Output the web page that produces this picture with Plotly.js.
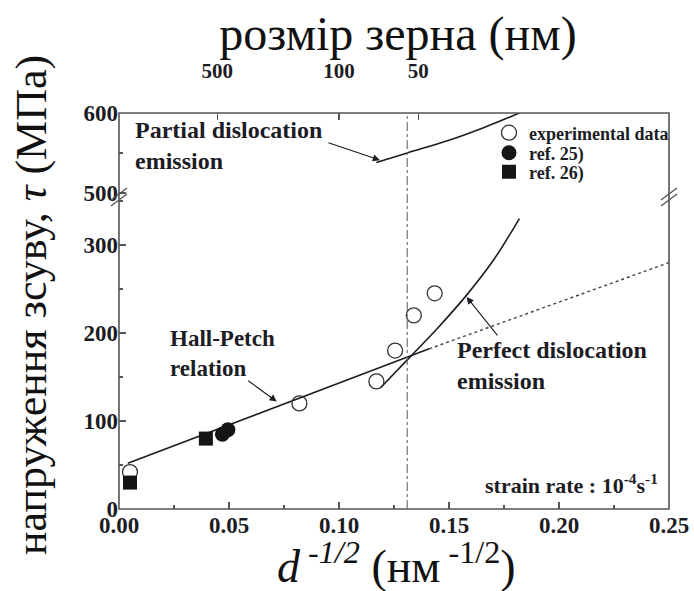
<!DOCTYPE html>
<html>
<head>
<meta charset="utf-8">
<script src="https://cdn.plot.ly/plotly-3.0.1.min.js"></script>
<style>
  html, body { margin: 0; padding: 0; background: #fff; }
  #chart { width: 694px; height: 591px; }
</style>
</head>
<body>
<div id="chart"></div>
<script>
// Measured shear stress vs inverse square root of grain size
const expX = [0.005, 0.082, 0.117, 0.1255, 0.134, 0.1435];
const expY = [42, 120, 145, 180, 220, 245];
const ref25X = [0.047, 0.0495];
const ref25Y = [85, 90];
const ref26X = [0.005, 0.0395];
const ref26Y = [30, 80];

// Hall-Petch relation (solid part and its dotted extrapolation)
const hallPetchX = [0.004, 0.141];
const hallPetchY = [52, 182];
const hallPetchExtX = [0.141, 0.25];
const hallPetchExtY = [182, 280];

// Perfect dislocation emission curve
const perfectX = [0.119, 0.132, 0.145, 0.158, 0.170, 0.182];
const perfectY = [138, 172, 206, 243, 282, 330];

// Partial dislocation emission curve (upper panel)
const partialX = [0.117, 0.131, 0.150, 0.166, 0.182];
const partialY = [538, 550, 566, 582, 600];

// Critical grain size marker line
const criticalX = 0.131;

// Top axis: grain size in nm
const grainTickPos = [0.0447, 0.100, 0.136];
const grainTickText = ['500', '100', '50'];

const SERIF = "'Liberation Serif', 'DejaVu Serif', serif";
const INK = '#1c1c24';
const FRAME = '#555';

const lineStyle = { color: INK, width: 1.6 };

const traces = [
  { x: hallPetchX, y: hallPetchY, xaxis: 'x', yaxis: 'y', mode: 'lines',
    line: lineStyle, showlegend: false, hoverinfo: 'skip' },
  { x: hallPetchExtX, y: hallPetchExtY, xaxis: 'x', yaxis: 'y', mode: 'lines',
    line: { color: '#444', width: 1.4, dash: 'dot' }, showlegend: false, hoverinfo: 'skip' },
  { x: perfectX, y: perfectY, xaxis: 'x', yaxis: 'y', mode: 'lines',
    line: Object.assign({ shape: 'spline', smoothing: 1 }, lineStyle), showlegend: false, hoverinfo: 'skip' },
  { x: partialX, y: partialY, xaxis: 'x', yaxis: 'y2', mode: 'lines',
    line: Object.assign({ shape: 'spline', smoothing: 1 }, lineStyle), showlegend: false, hoverinfo: 'skip' },
  { x: expX, y: expY, xaxis: 'x', yaxis: 'y', mode: 'markers', name: 'experimental data',
    legend: 'legend',
    marker: { symbol: 'circle-open', size: 15, color: '#333', line: { width: 1.3, color: '#333' } } },
  { x: ref25X, y: ref25Y, xaxis: 'x', yaxis: 'y', mode: 'markers', name: 'ref. 25)',
    legend: 'legend2',
    marker: { symbol: 'circle', size: 15, color: '#151515' } },
  { x: ref26X, y: ref26Y, xaxis: 'x', yaxis: 'y', mode: 'markers', name: 'ref. 26)',
    legend: 'legend3',
    marker: { symbol: 'square', size: 14, color: '#151515' } },
  // invisible trace that carries the top (grain size) axis
  { x: grainTickPos, y: [550, 550, 550], xaxis: 'x2', yaxis: 'y2', mode: 'markers',
    marker: { opacity: 0 }, showlegend: false, hoverinfo: 'skip' }
];

const tickFont = { family: SERIF, size: 23, color: INK, weight: 'bold' };
const LOWER_TOP = 0.7879;

const breakMark = (xp, dy) => ({
  type: 'line', xref: 'paper', yref: 'paper',
  xsizemode: 'pixel', ysizemode: 'pixel', xanchor: xp, yanchor: LOWER_TOP,
  x0: -8, x1: 8, y0: -6 + dy, y1: 6 + dy,
  line: { color: FRAME, width: 1.4 }
});

// one legend box per entry so the rows sit tightly together
const legendBox = (yPaper) => ({
  x: 0.6727, xanchor: 'left', y: yPaper, yanchor: 'middle',
  bgcolor: 'rgba(0,0,0,0)', borderwidth: 0,
  font: { family: SERIF, size: 18, color: INK, weight: 'bold' },
  tracegroupgap: 0, itemwidth: 30
});

const layout = {
  width: 694, height: 591,
  margin: { l: 119, r: 25, t: 113, b: 82 },
  paper_bgcolor: '#fff', plot_bgcolor: '#fff',
  font: { family: SERIF, color: INK },
  title: {
    text: 'розмір зерна (нм)',
    font: { family: SERIF, size: 48, color: '#111' },
    xref: 'container', yref: 'container',
    x: 398 / 694, xanchor: 'center', y: 1 - 33 / 591, yanchor: 'middle'
  },
  xaxis: {
    range: [0, 0.25], dtick: 0.05, tick0: 0, tickformat: '.2f',
    ticks: 'inside', ticklen: 7, tickwidth: 1.2, tickcolor: FRAME,
    minor: { dtick: 0.025, ticks: 'inside', ticklen: 4, tickcolor: FRAME },
    showgrid: false, zeroline: false, showline: false,
    tickfont: tickFont, anchor: 'y'
  },
  xaxis2: {
    overlaying: 'x', matches: 'x', anchor: 'y2', side: 'top',
    tickmode: 'array', tickvals: grainTickPos, ticktext: grainTickText,
    ticks: 'inside', ticklen: 7, tickwidth: 1.2, tickcolor: FRAME,
    ticklabelstandoff: 30,
    tickfont: { family: SERIF, size: 21, color: INK, weight: 'bold' },
    showgrid: false, zeroline: false, showline: false
  },
  yaxis: {
    domain: [0, LOWER_TOP], range: [0, 354.5], dtick: 100, tick0: 0,
    ticks: 'inside', ticklen: 7, tickwidth: 1.2, tickcolor: FRAME,
    minor: { dtick: 50, ticks: 'inside', ticklen: 4, tickcolor: FRAME },
    showgrid: false, zeroline: false, showline: false,
    tickfont: tickFont, anchor: 'x'
  },
  yaxis2: {
    domain: [LOWER_TOP, 1], range: [495, 600], dtick: 100, tick0: 0,
    ticks: 'inside', ticklen: 7, tickwidth: 1.2, tickcolor: FRAME,
    minor: { dtick: 50, ticks: 'inside', ticklen: 4, tickcolor: FRAME },
    showgrid: false, zeroline: false, showline: false,
    tickfont: tickFont, anchor: 'x'
  },
  showlegend: true,
  legend: legendBox((509 - 133) / 396),
  legend2: legendBox((509 - 153) / 396),
  legend3: legendBox((509 - 172) / 396),
  shapes: [
    { type: 'rect', xref: 'paper', yref: 'paper', x0: 0, x1: 1, y0: 0, y1: 1,
      line: { color: FRAME, width: 1.6 } },
    { type: 'line', xref: 'x', yref: 'paper', x0: criticalX, x1: criticalX, y0: 0, y1: 1,
      line: { color: '#666', width: 1.1, dash: 'dashdot' } },
    breakMark(0, -3), breakMark(0, 3),
    breakMark(1, -3), breakMark(1, 3)
  ],
  annotations: [
    // axis titles
    { xref: 'paper', yref: 'paper', x: -0.16, y: 0.515, xanchor: 'center', yanchor: 'middle',
      text: 'напруження зсуву, <i>τ</i> (МПа)', textangle: -90, showarrow: false,
      font: { family: SERIF, size: 44, color: '#111' } },
    { xref: 'paper', yref: 'paper', x: 0.505, y: -0.137, xanchor: 'center', yanchor: 'middle',
      text: '<i>d</i><sup><i> -1/2</i></sup> (нм<sup> -1/2</sup>)', showarrow: false,
      font: { family: SERIF, size: 46, color: '#111' } },
    // labels and pointers
    { xref: 'paper', yref: 'y2', x: 0.0255, y: 559, xanchor: 'left', yanchor: 'middle', align: 'left',
      text: 'Partial dislocation<br>emission', showarrow: false,
      font: { family: SERIF, size: 24, color: INK, weight: 'bold' } },
    { xref: 'x', yref: 'y2', x: 0.1186, y: 541, ax: -53, ay: -18, text: '',
      showarrow: true, arrowhead: 2, arrowsize: 1.3, arrowwidth: 1.1, arrowcolor: INK },
    { xref: 'x', yref: 'y', x: 0.0223, y: 177, xanchor: 'left', yanchor: 'middle', align: 'left',
      text: 'Hall-Petch<br>relation', showarrow: false,
      font: { family: SERIF, size: 23, color: INK, weight: 'bold' } },
    { xref: 'x', yref: 'y', x: 0.0717, y: 122, ax: -30, ay: -22, text: '',
      showarrow: true, arrowhead: 2, arrowsize: 1.3, arrowwidth: 1.1, arrowcolor: INK },
    { xref: 'x', yref: 'y', x: 0.1527, y: 162.5, xanchor: 'left', yanchor: 'middle', align: 'left',
      text: 'Perfect dislocation<br>emission', showarrow: false,
      font: { family: SERIF, size: 24, color: INK, weight: 'bold' } },
    { xref: 'x', yref: 'y', x: 0.158, y: 241, ax: 32, ay: 40, text: '',
      showarrow: true, arrowhead: 2, arrowsize: 1.3, arrowwidth: 1.1, arrowcolor: INK },
    { xref: 'x', yref: 'y', x: 0.246, y: 28.5, xanchor: 'right', yanchor: 'middle',
      text: 'strain rate : 10<sup>-4</sup>s<sup>-1</sup>', showarrow: false,
      font: { family: SERIF, size: 22, color: INK, weight: 'bold' } }
  ]
};

Plotly.newPlot('chart', traces, layout, { displayModeBar: false, staticPlot: true });
</script>
</body>
</html>
